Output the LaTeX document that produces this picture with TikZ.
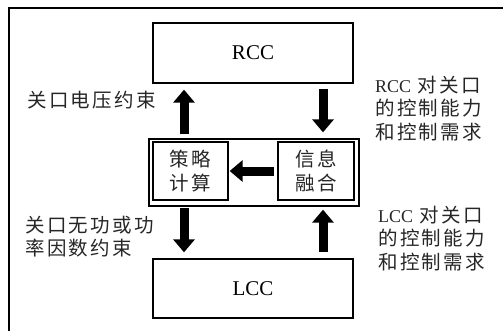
\documentclass[tikz,border=0pt]{standalone}
\usepackage{fontspec}
\setmainfont{Liberation Serif}
\newfontfamily\cjk[LetterSpace=12]{Noto Sans CJK SC}
\usetikzlibrary{arrows.meta}
\begin{document}
\begin{tikzpicture}[x=1pt,y=-1pt,
  box/.style={draw, line width=1.3pt, inner sep=0pt},
  zh/.style={font=\cjk\fontsize{19.5}{23.5}\selectfont, text=black!85},
  big/.style={line width=9pt, -{Triangle[width=21pt,length=13pt]}},
  lbl/.style={zh, align=left, inner sep=0pt}]
\useasboundingbox (0,0) rectangle (503,330);
\draw[line width=1.3pt] (9,332) -- (9,8) -- (505,8);
\node[box, minimum width=200pt, minimum height=60pt, font=\fontsize{21}{24}\selectfont] (rcc) at (253,53) {RCC};
\node[box, minimum width=200pt, minimum height=59pt, font=\fontsize{21}{24}\selectfont] (lcc) at (253,288.5) {LCC};
\node[box, minimum width=210pt, minimum height=67pt] (mid) at (254,172.5) {};
\node[box, zh, align=center, minimum width=75pt, minimum height=58pt] (clc) at (190.5,171) {策略\\计算};
\node[box, zh, align=center, minimum width=76pt, minimum height=58pt] (fus) at (316,171) {信息\\融合};
\coordinate (lx) at (184,0);
\coordinate (rx) at (323,0);
\draw[big, shorten <=4pt, shorten >=6pt] (lx |- mid.north) -- (lx |- rcc.south);
\draw[big, shorten <=5pt, shorten >=6pt] (rx |- rcc.south) -- (rx |- mid.north);
\draw[big, shorten <=1.5pt, shorten >=6pt] (lx |- mid.south) -- (lx |- lcc.north);
\draw[big, shorten <=6pt, shorten >=3pt] (rx |- lcc.north) -- (rx |- mid.south);
\draw[big, shorten <=3pt, shorten >=1pt] (fus.west) -- (clc.east);
\node[lbl, anchor=west] (l1) at (27,100) {关口电压约束};
\node[lbl, anchor=west] (l2) at (25,236.5) {关口无功或功\\率因数约束};
\node[lbl, anchor=west] (l3) at (375,108.5) {{\rmfamily\fontsize{18}{23.5}\selectfont RCC} 对关口\\的控制能力\\和控制需求};
\node[lbl, anchor=west] (l4) at (378,238.5) {{\rmfamily\fontsize{18}{23.5}\selectfont LCC} 对关口\\的控制能力\\和控制需求};
\end{tikzpicture}
\end{document}
